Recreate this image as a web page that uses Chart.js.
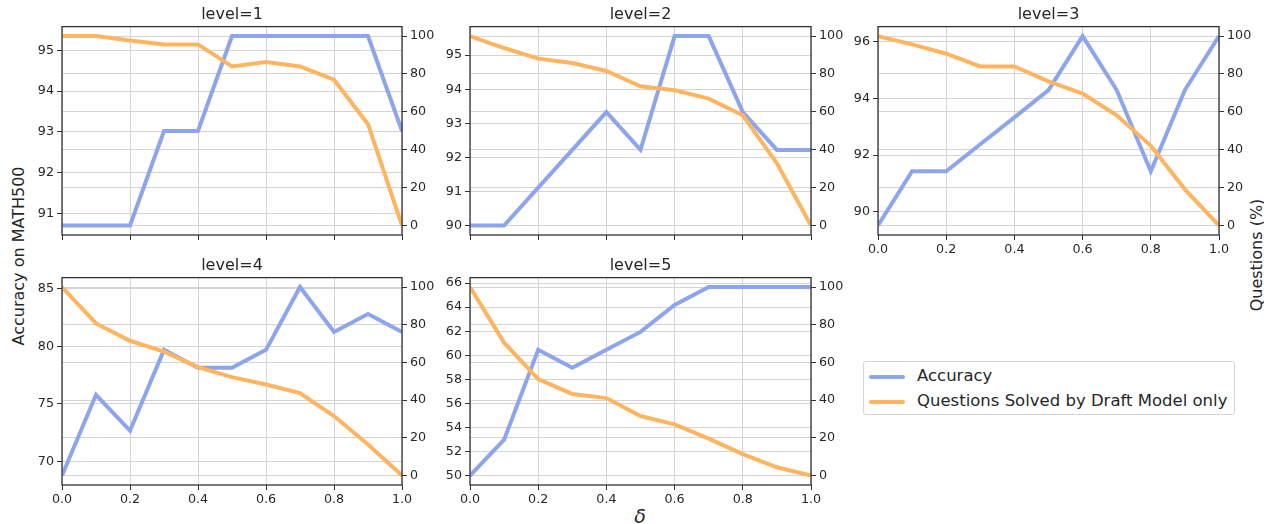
<!DOCTYPE html>
<html>
<head>
    <meta charset="UTF-8">
    <title>Accuracy vs delta</title>
    <script src="https://cdn.jsdelivr.net/npm/chart.js"></script>
    <style>
        body {
            margin: 0;
            background: #fff;
            font-family: "DejaVu Sans", sans-serif;
            color: #262626;
        }
        #page {
            position: relative;
            width: 1264px;
            height: 524px;
            overflow: hidden;
        }
        canvas {
            position: absolute;
        }
        .title {
            position: absolute;
            font-size: 16px;
            text-align: center;
            line-height: 18px;
            white-space: nowrap;
        }
        .ylabel {
            position: absolute;
            font-size: 16px;
            white-space: nowrap;
            transform: translate(-50%, -50%) rotate(-90deg);
        }
        #delta {
            position: absolute;
            left: 640px;
            top: 516px;
            font-size: 19px;
            font-style: italic;
            transform: translate(-50%, -50%);
        }
        #legend {
            position: absolute;
            left: 863px;
            top: 361px;
            width: 370px;
            height: 52px;
            border: 1px solid #d6d6d6;
            border-radius: 3px;
            font-size: 16.5px;
        }
        .entry {
            position: absolute;
            left: 5px;
            height: 20px;
            line-height: 20px;
            white-space: nowrap;
        }
        .swatch {
            display: inline-block;
            width: 36px;
            height: 4px;
            border-radius: 2px;
            vertical-align: middle;
            margin-right: 12px;
        }
    </style>
</head>
<body>
<div id="page">
    <div class="ylabel" style="left:18px; top:256px;">Accuracy on MATH500</div>
    <div class="ylabel" style="left:1256px; top:255px;">Questions (%)</div>
    <div id="delta">δ</div>
    <div id="legend">
        <div class="entry" style="top:4px;"><span class="swatch" style="background:rgb(141,165,237)"></span>Accuracy</div>
        <div class="entry" style="top:29px;"><span class="swatch" style="background:rgb(255,180,95)"></span>Questions Solved by Draft Model only</div>
    </div>
</div>

<script>
    // delta values on the x axis
    const deltas = [0.0, 0.1, 0.2, 0.3, 0.4, 0.5, 0.6, 0.7, 0.8, 0.9, 1.0];
    const xTicks = [0.0, 0.2, 0.4, 0.6, 0.8, 1.0];
    const questionTicks = [0, 20, 40, 60, 80, 100];

    // accuracy on MATH500 (%) per level
    const accLevel1 = [90.70, 90.70, 90.70, 93.02, 93.02, 95.35, 95.35, 95.35, 95.35, 95.35, 93.02];
    const accLevel2 = [90.00, 90.00, 91.11, 92.22, 93.33, 92.22, 95.56, 95.56, 93.33, 92.22, 92.22];
    const accLevel3 = [89.52, 91.43, 91.43, 92.38, 93.33, 94.29, 96.19, 94.29, 91.43, 94.29, 96.19];
    const accLevel4 = [68.75, 75.78, 72.66, 79.69, 78.13, 78.13, 79.69, 85.16, 81.25, 82.81, 81.25];
    const accLevel5 = [50.00, 52.99, 60.45, 58.96, 60.45, 61.94, 64.18, 65.67, 65.67, 65.67, 65.67];

    // questions solved by draft model only (%)
    const qLevel1 = [100, 100, 97.7, 95.6, 95.6, 84.0, 86.3, 84.0, 77.0, 53.5, 0];
    const qLevel2 = [100, 93.7, 88.1, 85.8, 81.6, 73.5, 71.4, 67.0, 58.2, 32.8, 0];
    const qLevel3 = [100, 95.6, 90.7, 84.0, 84.0, 76.1, 69.6, 58.2, 42.1, 19.1, 0];
    const qLevel4 = [100, 80.7, 71.5, 65.7, 57.5, 52.2, 48.3, 43.8, 31.6, 16.5, 0];
    const qLevel5 = [100, 70.5, 51.2, 43.3, 41.1, 31.6, 27.2, 19.6, 11.4, 4.4, 0];

    // left axis tick labels per level
    const accTicks1 = [91, 92, 93, 94, 95];
    const accTicks2 = [90, 91, 92, 93, 94, 95];
    const accTicks3 = [90, 92, 94, 96];
    const accTicks4 = [70, 75, 80, 85];
    const accTicks5 = [50, 52, 54, 56, 58, 60, 62, 64, 66];

    const blue = 'rgb(141,165,237)';
    const orange = 'rgb(255,180,95)';
    const tickFont = { family: 'DejaVu Sans', size: 12.7 };
    const textColor = '#262626';
    const gridColor = '#d4d4d4';

    // box round the plot area, drawn over the lines like matplotlib spines
    const frame = {
        id: 'frame',
        afterDatasetsDraw(chart) {
            const { ctx, chartArea: a } = chart;
            ctx.save();
            ctx.strokeStyle = '#333333';
            ctx.lineWidth = 1.3;
            ctx.strokeRect(a.left, a.top, a.right - a.left, a.bottom - a.top);
            ctx.restore();
        }
    };

    function padRange(values, frac) {
        const lo = Math.min(...values), hi = Math.max(...values);
        const m = (hi - lo) * frac;
        return [lo - m, hi + m];
    }

    function yAxis(position, range, ticks) {
        return {
            type: 'linear',
            position: position,
            min: range[0],
            max: range[1],
            afterBuildTicks: s => { s.ticks = ticks.map(v => ({ value: v })); },
            afterFit: s => { s.width = 50; },
            ticks: { font: tickFont, color: textColor, padding: 3, callback: v => String(v) },
            grid: { color: gridColor, tickColor: '#333333', tickLength: 5 },
            border: { display: false }
        };
    }

    function makeChart(title, acc, q, accTicks, left, top, plotW, plotH, showX) {
        const page = document.getElementById('page');
        const canvas = document.createElement('canvas');
        canvas.width = plotW + 100;
        canvas.height = plotH + 40;
        canvas.style.left = (left - 50) + 'px';
        canvas.style.top = (top - 10) + 'px';
        page.appendChild(canvas);

        const t = document.createElement('div');
        t.className = 'title';
        t.textContent = title;
        t.style.left = left + 'px';
        t.style.width = plotW + 'px';
        t.style.top = (top - 21) + 'px';
        page.appendChild(t);

        new Chart(canvas, {
            type: 'line',
            data: {
                datasets: [
                    {
                        label: 'Questions Solved by Draft Model only',
                        data: deltas.map((d, i) => ({ x: d, y: q[i] })),
                        yAxisID: 'y2',
                        borderColor: orange,
                        borderWidth: 4,
                        pointRadius: 0,
                        tension: 0
                    },
                    {
                        label: 'Accuracy',
                        data: deltas.map((d, i) => ({ x: d, y: acc[i] })),
                        yAxisID: 'y',
                        borderColor: blue,
                        borderWidth: 4,
                        pointRadius: 0,
                        tension: 0
                    }
                ]
            },
            options: {
                responsive: false,
                animation: false,
                layout: { padding: { top: 10, left: 0, right: 0, bottom: 0 } },
                plugins: { legend: { display: false }, tooltip: { enabled: false } },
                scales: {
                    x: {
                        type: 'linear',
                        min: 0,
                        max: 1,
                        afterBuildTicks: s => { s.ticks = xTicks.map(v => ({ value: v })); },
                        afterFit: s => { s.height = 30; },
                        ticks: {
                            display: showX,
                            font: tickFont,
                            color: textColor,
                            padding: 2,
                            maxRotation: 0,
                            autoSkip: false,
                            callback: v => v.toFixed(1)
                        },
                        grid: { color: gridColor, tickColor: '#333333', tickLength: 5 },
                        border: { display: false }
                    },
                    y: yAxis('left', padRange(acc, 0.05), accTicks),
                    y2: yAxis('right', padRange(q, 0.05), questionTicks)
                }
            },
            plugins: [frame]
        });
    }

    makeChart('level=1', accLevel1, qLevel1, accTicks1, 62, 26, 340, 209, false);
    makeChart('level=2', accLevel2, qLevel2, accTicks2, 470, 26, 341, 209, false);
    makeChart('level=3', accLevel3, qLevel3, accTicks3, 878, 26, 341, 209, true);
    makeChart('level=4', accLevel4, qLevel4, accTicks4, 62, 277, 340, 208, true);
    makeChart('level=5', accLevel5, qLevel5, accTicks5, 470, 277, 341, 208, true);
</script>
</body>
</html>
